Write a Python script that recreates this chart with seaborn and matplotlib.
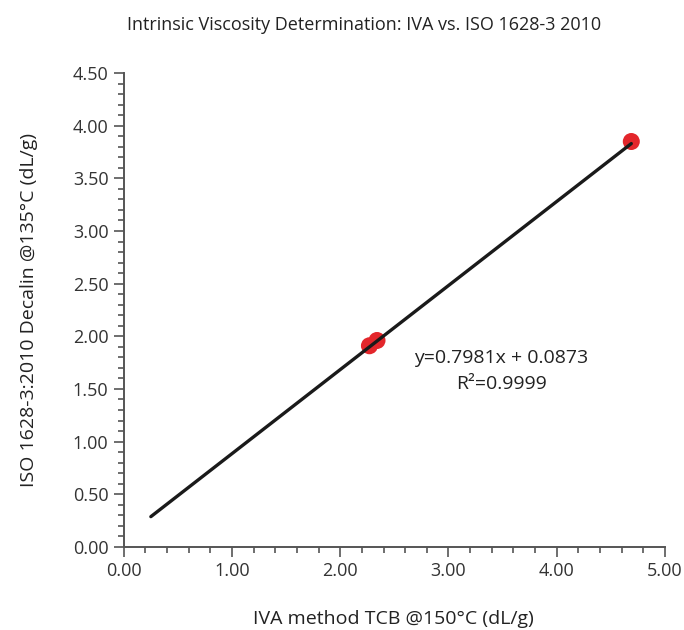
import numpy as np
import pandas as pd
import matplotlib.pyplot as plt
from matplotlib.ticker import MultipleLocator, FormatStrFormatter
import seaborn as sns

# data
iva_tcb = [2.27, 2.34, 4.69]
iso_decalin = [1.91, 1.96, 3.85]
fit_x = [0.25, 4.69]
slope = 0.7981
intercept = 0.0873

df = pd.DataFrame({'IVA': iva_tcb, 'ISO': iso_decalin})
fit = pd.DataFrame({'x': fit_x})
fit['y'] = slope * fit['x'] + intercept

sns.set_style('ticks')
plt.rcParams['font.family'] = ['Open Sans', 'DejaVu Sans']

fig = plt.figure(figsize=(6.84, 6.3), dpi=100)
ax = fig.add_axes([0.181, 0.132, 0.791, 0.752])

sns.scatterplot(data=df, x='IVA', y='ISO', color='#e3262b', s=150,
                edgecolor='none', ax=ax, zorder=2)
sns.lineplot(data=fit, x='x', y='y', color='#1a1a1a', linewidth=2.4, ax=ax, zorder=3)

ax.set_xlim(0, 5)
ax.set_ylim(0, 4.5)
ax.xaxis.set_major_locator(MultipleLocator(1))
ax.xaxis.set_minor_locator(MultipleLocator(0.2))
ax.yaxis.set_major_locator(MultipleLocator(0.5))
ax.yaxis.set_minor_locator(MultipleLocator(0.1))
ax.xaxis.set_major_formatter(FormatStrFormatter('%.2f'))
ax.yaxis.set_major_formatter(FormatStrFormatter('%.2f'))
ax.tick_params(which='major', length=7, width=1.2, color='#555555',
               labelsize=13, labelcolor='#333333', pad=4)
ax.tick_params(which='minor', length=4, width=1.2, color='#555555')
for s in ['top', 'right']:
    ax.spines[s].set_visible(False)
for s in ['left', 'bottom']:
    ax.spines[s].set_color('#555555')
    ax.spines[s].set_linewidth(1.4)

ax.set_xlabel('')
ax.set_ylabel('')
fig.text(0.042, 0.508, 'ISO 1628-3:2010 Decalin @135°C (dL/g)', ha='center',
         va='center', rotation=90, fontsize=14, color='#222222')
fig.text(0.575, 0.01, 'IVA method TCB @150°C (dL/g)', ha='center',
         fontsize=14, color='#222222')
fig.text(0.532, 0.953, 'Intrinsic Viscosity Determination: IVA vs. ISO 1628-3 2010',
         ha='center', fontsize=13, color='#222222')

ax.text(3.49, 1.79, 'y=0.7981x + 0.0873', ha='center', va='center',
        fontsize=14, color='#222222')
ax.text(3.49, 1.55, 'R²=0.9999', ha='center', va='center',
        fontsize=14, color='#222222')

fig.savefig('out.png', dpi=100)
